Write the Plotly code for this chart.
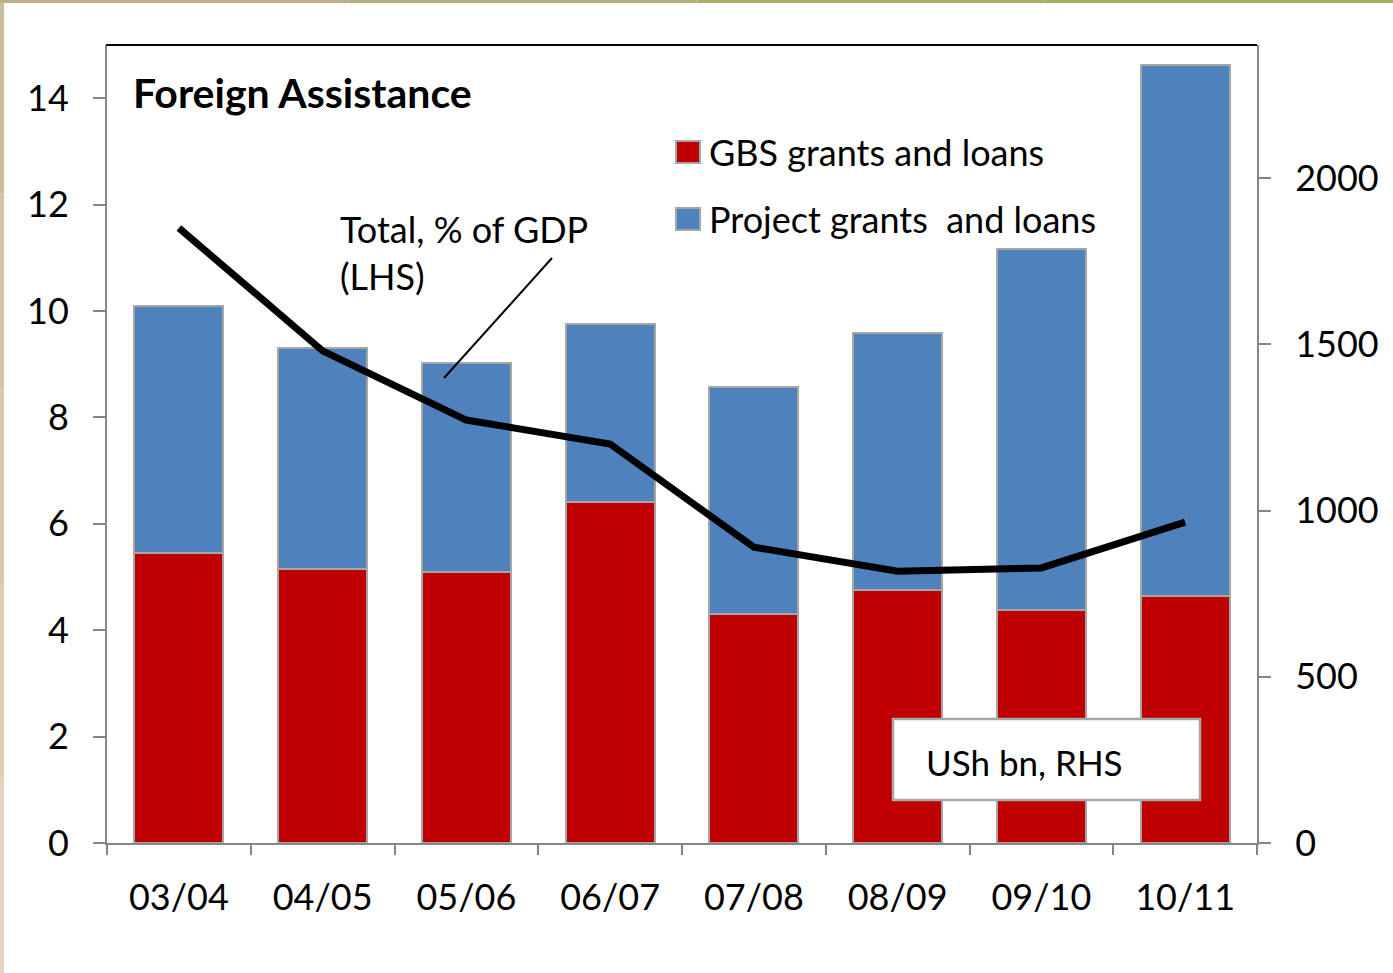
import plotly.graph_objects as go

# Fiscal years
years = ["03/04", "04/05", "05/06", "06/07", "07/08", "08/09", "09/10", "10/11"]

# Foreign assistance, USh bn (right-hand axis)
gbs_grants_loans = [872, 824, 815, 1026, 689, 761, 701, 743]
project_grants_loans = [743, 665, 629, 535, 682, 773, 1085, 1597]

# Total foreign assistance, % of GDP (left-hand axis)
total_pct_gdp = [11.56, 9.25, 7.95, 7.5, 5.56, 5.11, 5.17, 6.03]

gbs_name = "GBS grants and loans"
project_name = "Project grants  and loans"
title_text = "Foreign Assistance"
line_label = "Total, % of GDP<br>(LHS)"
units_label = "USh bn, RHS"

W, H = 1393, 973
L, R, T, B = 107, 1257, 45, 843   # plot-area edges in pixels

RED = "#C00000"
BLUE = "#4F81BD"
OUTLINE = "#A6A6A6"
AXIS = "#868686"
FONT = "Lato"
TXT = 36


def px(x):
    return (x - L) / (R - L)


def py(y):
    return (B - y) / (B - T)


fig = go.Figure()
fig.add_trace(go.Bar(
    x=years, y=gbs_grants_loans, name=gbs_name,
    marker=dict(color=RED, line=dict(color=OUTLINE, width=2)),
    yaxis="y",
))
fig.add_trace(go.Bar(
    x=years, y=project_grants_loans, name=project_name,
    marker=dict(color=BLUE, line=dict(color=OUTLINE, width=2)),
    yaxis="y",
))
fig.add_trace(go.Scatter(
    x=years, y=total_pct_gdp, mode="lines", name="Total, % of GDP",
    line=dict(color="black", width=7),
    yaxis="y2",
))

shapes = []
annotations = []

# page edge stripes
stripe_cols = ["#B9B088", "#B4AE7C", "#AEAE6C", "#A9AE62"]
n = len(stripe_cols)
for i, c in enumerate(stripe_cols):
    shapes.append(dict(type="rect", xref="paper", yref="paper",
                       x0=px(W * i / n), x1=px(W * (i + 1) / n),
                       y0=py(3), y1=py(0), fillcolor=c, line_width=0, layer="below"))
side_cols = ["#C9BE98", "#D2C29F", "#D8C8A8", "#DDCDB2", "#E2D4C0"]
n = len(side_cols)
for i, c in enumerate(side_cols):
    shapes.append(dict(type="rect", xref="paper", yref="paper",
                       x0=px(0), x1=px(4),
                       y0=py(H * (i + 1) / n), y1=py(max(H * i / n, 3)),
                       fillcolor=c, line_width=0, layer="below"))

# top border of the plot area
shapes.append(dict(type="line", xref="paper", yref="paper",
                   x0=px(L - 1), x1=px(R), y0=1, y1=1,
                   line=dict(color="black", width=2)))

# legend swatches and labels
for (name, col, yc) in [(gbs_name, RED, 152), (project_name, BLUE, 219)]:
    shapes.append(dict(type="rect", xref="paper", yref="paper",
                       x0=px(676), x1=px(700), y0=py(yc + 11), y1=py(yc - 11),
                       fillcolor=col, line=dict(color=OUTLINE, width=2)))
    annotations.append(dict(xref="paper", yref="paper", x=px(707), y=py(yc),
                            text=name, showarrow=False, xanchor="left", yanchor="middle",
                            font=dict(family=FONT, size=TXT, color="black")))

# title
annotations.append(dict(xref="paper", yref="paper", x=px(131), y=py(92),
                        text="<b>" + title_text + "</b>", showarrow=False,
                        xanchor="left", yanchor="middle",
                        font=dict(family=FONT, size=41, color="black")))

# line label with leader
annotations.append(dict(xref="paper", yref="paper", x=px(338), y=py(205),
                        text=line_label, showarrow=False, align="left",
                        xanchor="left", yanchor="top",
                        font=dict(family=FONT, size=TXT, color="black")))
shapes.append(dict(type="line", xref="paper", yref="paper",
                   x0=px(552), y0=py(258), x1=px(444), y1=py(378),
                   line=dict(color="black", width=2)))

# units box
shapes.append(dict(type="rect", xref="paper", yref="paper",
                   x0=px(893), x1=px(1200), y0=py(800), y1=py(719),
                   fillcolor="white", line=dict(color=OUTLINE, width=2.5)))
annotations.append(dict(xref="paper", yref="paper", x=px(924), y=py(762),
                        text=units_label, showarrow=False,
                        xanchor="left", yanchor="middle",
                        font=dict(family=FONT, size=35, color="black")))

fig.update_layout(
    width=W, height=H,
    margin=dict(l=L, r=W - R, t=T, b=H - B, pad=0),
    paper_bgcolor="white", plot_bgcolor="white",
    barmode="stack", bargap=0.38,
    showlegend=False,
    font=dict(family=FONT, size=TXT, color="black"),
    xaxis=dict(
        type="category", range=[-0.5, 7.5], tickson="boundaries",
        ticks="outside", ticklen=10, tickwidth=2, tickcolor=AXIS,
        showline=True, linecolor=AXIS, linewidth=2, showgrid=False,
        tickfont=dict(family=FONT, size=TXT), ticklabelstandoff=22,
    ),
    yaxis=dict(
        side="right", range=[0, 2400], tickvals=[0, 500, 1000, 1500, 2000],
        ticks="outside", ticklen=12, tickwidth=2, tickcolor=AXIS,
        showline=True, linecolor=AXIS, linewidth=2, showgrid=False,
        zeroline=False, tickfont=dict(family=FONT, size=TXT), ticklabelstandoff=17,
    ),
    yaxis2=dict(
        overlaying="y", side="left", range=[0, 15], tickvals=list(range(0, 15, 2)),
        ticks="outside", ticklen=12, tickwidth=2, tickcolor=AXIS,
        showline=True, linecolor=AXIS, linewidth=2, showgrid=False,
        zeroline=False, tickfont=dict(family=FONT, size=TXT), ticklabelstandoff=17,
    ),
    shapes=shapes,
    annotations=annotations,
)

fig.write_html("out.html")
